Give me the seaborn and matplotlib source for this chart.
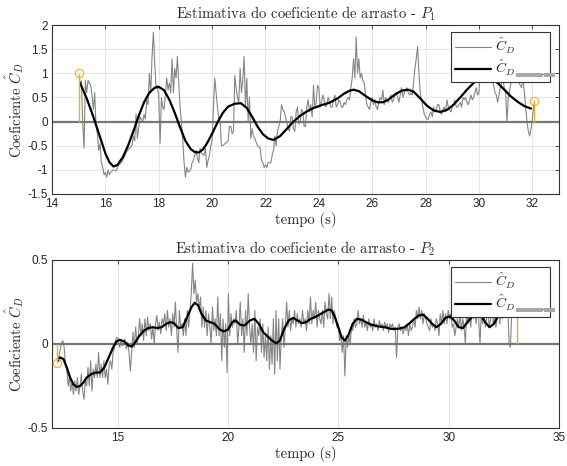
import numpy as np
import pandas as pd
import seaborn as sns
import matplotlib
matplotlib.use("Agg")
import matplotlib.pyplot as plt
from matplotlib.patches import Rectangle

# ---------------- data: P1 ----------------
t1_raw = [15.05, 15.1, 15.15, 15.2, 15.25, 15.3, 15.35, 15.4, 15.45, 15.5,
          15.55, 15.6, 15.65, 15.7, 15.75, 15.8, 15.85, 15.9, 15.95, 16.0,
          16.05, 16.1, 16.15, 16.2, 16.3, 16.4, 16.5, 16.6, 16.7, 16.8,
          16.9, 17.0, 17.05, 17.1, 17.15, 17.2, 17.3, 17.4, 17.45, 17.5,
          17.55, 17.6, 17.65, 17.7, 17.75, 17.8, 17.85, 17.9, 17.95, 18.0,
          18.05, 18.1, 18.15, 18.2, 18.3, 18.35, 18.4, 18.45, 18.5, 18.55,
          18.6, 18.65, 18.7, 18.75, 18.8, 18.85, 18.9, 18.95, 19.0, 19.05,
          19.1, 19.2, 19.25, 19.3, 19.4, 19.45, 19.5, 19.55, 19.6, 19.7,
          19.75, 19.8, 19.85, 19.9, 19.95, 20.0, 20.05, 20.1, 20.15, 20.2,
          20.25, 20.3, 20.35, 20.4, 20.5, 20.6, 20.65, 20.7, 20.75, 20.8,
          20.85, 20.9, 20.95, 21.0, 21.05, 21.1, 21.15, 21.2, 21.25, 21.3,
          21.35, 21.4, 21.45, 21.5, 21.55, 21.6, 21.7, 21.8, 21.85, 21.9,
          21.95, 22.0, 22.05, 22.1, 22.2, 22.25, 22.3, 22.35, 22.4, 22.45,
          22.5, 22.55, 22.6, 22.65, 22.7, 22.75, 22.8, 22.85, 22.9, 22.95,
          23.0, 23.05, 23.1, 23.15, 23.2, 23.25, 23.3, 23.35, 23.4, 23.45,
          23.5, 23.55, 23.6, 23.65, 23.7, 23.75, 23.8, 23.85, 23.9, 23.95,
          24.0, 24.05, 24.1, 24.15, 24.2, 24.25, 24.3, 24.35, 24.4, 24.45,
          24.5, 24.55, 24.6, 24.65, 24.7, 24.75, 24.8, 24.85, 24.9, 24.95,
          25.0, 25.05, 25.1, 25.15, 25.2, 25.25, 25.3, 25.35, 25.4, 25.45,
          25.5, 25.55, 25.6, 25.65, 25.7, 25.75, 25.8, 25.85, 25.9, 25.95,
          26.0, 26.05, 26.1, 26.15, 26.2, 26.25, 26.3, 26.35, 26.4, 26.45,
          26.5, 26.55, 26.6, 26.65, 26.7, 26.75, 26.8, 26.85, 26.9, 26.95,
          27.0, 27.05, 27.1, 27.15, 27.2, 27.25, 27.3, 27.35, 27.4, 27.45,
          27.5, 27.55, 27.6, 27.65, 27.7, 27.75, 27.8, 27.85, 27.9, 27.95,
          28.0, 28.05, 28.1, 28.15, 28.2, 28.25, 28.3, 28.35, 28.4, 28.45,
          28.5, 28.55, 28.6, 28.65, 28.7, 28.75, 28.8, 28.85, 28.9, 28.95,
          29.0, 29.05, 29.1, 29.15, 29.2, 29.25, 29.3, 29.35, 29.4, 29.45,
          29.5, 29.55, 29.6, 29.65, 29.7, 29.75, 29.8, 29.85, 29.9, 29.95,
          30.0, 30.05, 30.1, 30.15, 30.2, 30.25, 30.3, 30.35, 30.4, 30.45,
          30.5, 30.55, 30.6, 30.65, 30.7, 30.75, 30.8, 30.85, 30.9, 30.95,
          31.0, 31.05, 31.1, 31.15, 31.2, 31.25, 31.3, 31.35, 31.4, 31.45,
          31.5, 31.55, 31.6, 31.65, 31.7, 31.75, 31.8, 31.85, 31.9, 31.95,
          32.0, 32.05, 32.08]
cd1_raw = [0.8, 0.85, 0.0, -0.55, 0.85, 0.6, 0.85, 0.8, 0.75, 0.55,
           0.25, 0.6, -0.1, -0.25, -0.6, -0.45, -0.85, -0.95, -1.1, -1.05,
           -1.15, -1.0, -1.1, -1.05, -1.0, -1.02, -0.9, -0.85, -0.75, -0.62,
           -0.55, -0.5, -0.3, -0.4, 0.15, -0.35, 0.1, 0.0, 0.15, 0.05,
           0.45, 0.35, 1.0, 0.6, 1.35, 1.85, 1.2, 0.7, 0.75, 0.5,
           -0.45, 0.5, 0.3, 0.25, 0.9, 0.65, 0.8, 0.6, 1.3, 0.6,
           1.1, 0.9, 1.35, 0.8, 0.3, 0.0, -0.4, -0.85, -1.15, -0.95,
           -1.05, -1.0, -0.85, -0.8, -0.6, -0.75, -0.85, -0.55, -0.65, -0.7,
           -0.55, -0.95, -0.8, -0.7, -0.5, -0.4, 0.3, 0.9, 0.6, 0.3,
           0.05, 0.0, -0.5, -0.5, -0.45, -0.4, -0.1, -0.1, -0.25, -0.2,
           0.95, 0.7, 0.5, 0.4, 1.1, 0.6, 0.85, 1.35, 0.3, 0.9,
           0.0, 0.5, -0.35, -0.15, -0.3, -0.35, -0.5, -0.55, -0.8, -0.85,
           -0.95, -0.9, -0.95, -0.85, -0.85, -0.7, -0.6, -0.3, -0.5, -0.2,
           -0.1, 0.0, 0.35, 0.25, 0.2, 0.1, 0.0, -0.15, -0.2, 0.1,
           0.1, -0.15, -0.2, 0.2, 0.3, -0.05, 0.0, 0.25, 0.2, -0.1,
           -0.1, 0.3, 0.45, 0.2, 0.35, 0.1, 0.75, 0.3, 0.4, 0.75,
           0.7, 0.3, 0.4, 0.55, 0.45, 0.3, 0.35, 0.5, 0.4, 0.3,
           0.3, 0.45, 0.55, 0.3, 0.35, 0.45, 0.4, 0.3, 0.3, 0.4,
           0.35, 0.45, 0.5, 0.45, 0.7, 0.9, 1.3, 0.9, 1.75, 1.0,
           1.3, 0.9, 1.0, 0.85, 0.8, 0.55, 0.35, 0.3, 0.25, 0.4,
           0.5, 0.35, 0.45, 0.3, 0.25, 0.4, 0.5, 0.45, 0.65, 0.35,
           0.5, 0.45, 0.4, 0.5, 0.55, 0.4, 0.45, 0.55, 0.6, 0.5,
           0.4, 0.55, 0.7, 0.5, 0.6, 0.65, 0.7, 0.6, 0.55, 0.6,
           0.55, 0.8, 1.1, 1.3, 1.55, 1.0, 0.6, 0.45, 0.3, 0.15,
           0.1, 0.05, 0.05, 0.15, 0.2, 0.1, 0.3, 0.2, 0.25, 0.35,
           0.35, 0.2, 0.15, 0.25, 0.3, 0.2, 0.45, 0.3, 0.25, 0.2,
           0.3, 0.35, 0.45, 0.3, 0.3, 0.35, 0.4, 0.3, 0.5, 0.45,
           0.5, 0.4, 0.35, 0.45, 0.55, 0.45, 0.5, 0.6, 0.7, 0.55,
           0.6, 1.05, 0.9, 1.0, 1.05, 0.95, 0.9, 1.05, 1.0, 0.9,
           0.85, 0.75, 0.6, 0.55, 0.4, 0.55, 0.7, 0.8, 0.85, 0.7,
           0.6, 0.0, 0.5, 0.65, 0.8, 0.9, 1.0, 0.8, 1.05, 0.95,
           0.8, 0.75, 0.7, 0.95, 0.6, 0.3, 0.0, -0.2, -0.3, -0.15,
           0.05, 0.3, 0.42]

t1_filt = [15.05, 15.3, 15.55, 15.8, 16.0, 16.15, 16.3, 16.45, 16.65, 16.85,
           17.05, 17.25, 17.45, 17.65, 17.85, 18.0, 18.2, 18.4, 18.6, 18.8,
           19.0, 19.2, 19.35, 19.5, 19.65, 19.8, 20.0, 20.2, 20.4, 20.6,
           20.85, 21.08, 21.3, 21.5, 21.7, 21.9, 22.1, 22.3, 22.55, 22.8,
           23.05, 23.3, 23.55, 23.8, 24.1, 24.4, 24.7, 24.95, 25.15, 25.3,
           25.5, 25.75, 26.0, 26.2, 26.4, 26.6, 26.85, 27.1, 27.35, 27.55,
           27.8, 28.05, 28.3, 28.55, 28.8, 29.05, 29.3, 29.55, 29.8, 30.0,
           30.23, 30.45, 30.7, 30.95, 31.2, 31.45, 31.7, 31.95]
cd1_filt = [0.8, 0.48, 0.1, -0.32, -0.66, -0.84, -0.93, -0.9, -0.74, -0.5,
            -0.2, 0.12, 0.4, 0.6, 0.7, 0.72, 0.65, 0.45, 0.18, -0.12,
            -0.4, -0.57, -0.63, -0.64, -0.58, -0.46, -0.25, -0.02, 0.18, 0.31,
            0.37, 0.38, 0.28, 0.1, -0.1, -0.26, -0.35, -0.38, -0.3, -0.15,
            0.0, 0.12, 0.21, 0.28, 0.34, 0.39, 0.48, 0.58, 0.64, 0.66,
            0.63, 0.53, 0.44, 0.4, 0.4, 0.45, 0.56, 0.64, 0.66, 0.62,
            0.48, 0.33, 0.23, 0.2, 0.24, 0.35, 0.5, 0.66, 0.8, 0.88,
            0.92, 0.9, 0.8, 0.66, 0.52, 0.41, 0.32, 0.27]

t1_stem = [15.03, 32.08]
cd1_stem = [1.0, 0.42]

# ---------------- data: P2 ----------------
t2_raw = [12.3, 12.38, 12.45, 12.52, 12.58, 12.64, 12.7, 12.76, 12.82, 12.88,
          12.94, 13.0, 13.06, 13.12, 13.18, 13.24, 13.3, 13.36, 13.42, 13.48,
          13.54, 13.6, 13.66, 13.72, 13.78, 13.84, 13.9, 13.96, 14.02, 14.08,
          14.14, 14.2, 14.26, 14.32, 14.38, 14.44, 14.5, 14.56, 14.62, 14.68,
          14.74, 14.8, 14.86, 14.92, 14.98, 15.04, 15.1, 15.16, 15.22, 15.28,
          15.34, 15.4, 15.46, 15.52, 15.58, 15.64, 15.7, 15.76, 15.82, 15.88,
          15.94, 16.0, 16.06, 16.12, 16.18, 16.24, 16.3, 16.36, 16.42, 16.48,
          16.54, 16.6, 16.66, 16.72, 16.78, 16.84, 16.9, 16.96, 17.02, 17.08,
          17.14, 17.2, 17.26, 17.32, 17.38, 17.44, 17.5, 17.56, 17.62, 17.68,
          17.74, 17.8, 17.86, 17.92, 17.98, 18.04, 18.1, 18.16, 18.22, 18.28,
          18.34, 18.4, 18.46, 18.52, 18.58, 18.64, 18.7, 18.76, 18.82, 18.88,
          18.94, 19.0, 19.06, 19.12, 19.18, 19.24, 19.3, 19.36, 19.42, 19.48,
          19.54, 19.6, 19.66, 19.72, 19.78, 19.84, 19.9, 19.96, 20.02, 20.08,
          20.14, 20.2, 20.26, 20.32, 20.38, 20.44, 20.5, 20.56, 20.62, 20.68,
          20.74, 20.8, 20.86, 20.92, 20.98, 21.04, 21.1, 21.16, 21.22, 21.28,
          21.34, 21.4, 21.46, 21.52, 21.58, 21.64, 21.7, 21.76, 21.82, 21.88,
          21.94, 22.0, 22.06, 22.12, 22.18, 22.24, 22.3, 22.36, 22.42, 22.48,
          22.54, 22.6, 22.66, 22.72, 22.78, 22.84, 22.9, 22.96, 23.02, 23.08,
          23.14, 23.2, 23.26, 23.32, 23.38, 23.44, 23.5, 23.56, 23.62, 23.68,
          23.74, 23.8, 23.86, 23.92, 23.98, 24.04, 24.1, 24.16, 24.22, 24.28,
          24.34, 24.4, 24.46, 24.52, 24.58, 24.64, 24.7, 24.76, 24.82, 24.88,
          24.94, 25.0, 25.06, 25.12, 25.18, 25.24, 25.3, 25.36, 25.42, 25.48,
          25.54, 25.6, 25.66, 25.72, 25.78, 25.84, 25.9, 25.96, 26.02, 26.08,
          26.14, 26.2, 26.26, 26.32, 26.38, 26.44, 26.5, 26.56, 26.62, 26.68,
          26.74, 26.8, 26.86, 26.92, 26.98, 27.04, 27.1, 27.16, 27.22, 27.28,
          27.34, 27.4, 27.46, 27.52, 27.58, 27.64, 27.7, 27.76, 27.82, 27.88,
          27.94, 28.0, 28.06, 28.12, 28.18, 28.24, 28.3, 28.36, 28.42, 28.48,
          28.54, 28.6, 28.66, 28.72, 28.78, 28.84, 28.9, 28.96, 29.02, 29.08,
          29.14, 29.2, 29.26, 29.32, 29.38, 29.44, 29.5, 29.56, 29.62, 29.68,
          29.74, 29.8, 29.86, 29.92, 29.98, 30.04, 30.1, 30.16, 30.22, 30.28,
          30.34, 30.4, 30.46, 30.52, 30.58, 30.64, 30.7, 30.76, 30.82, 30.88,
          30.94, 31.0, 31.06, 31.12, 31.18, 31.24, 31.3, 31.36, 31.42, 31.48,
          31.54, 31.6, 31.66, 31.72, 31.78, 31.84, 31.9, 31.96, 32.02, 32.08,
          32.14, 32.2, 32.26, 32.32, 32.38, 32.44, 32.5, 32.56, 32.62, 32.68,
          32.74, 32.8, 32.86, 32.92, 32.98, 33.04]
cd2_raw = [-0.1, -0.05, 0.0, 0.02, -0.02, -0.12, -0.15, -0.25, -0.2, -0.28,
           -0.22, -0.3, -0.22, -0.28, -0.2, -0.3, -0.25, -0.18, -0.28, -0.33,
           -0.22, -0.25, -0.14, -0.25, -0.1, -0.28, -0.15, -0.2, -0.12, -0.2,
           -0.05, -0.2, -0.12, -0.2, -0.1, -0.2, -0.15, -0.24, -0.12, -0.1,
           -0.15, -0.05, -0.02, 0.03, 0.04, 0.02, -0.02, 0.02, -0.01, 0.0,
           0.03, -0.03, 0.01, -0.05, -0.16, -0.05, 0.07, -0.02, 0.1, 0.0,
           0.05, 0.15, 0.05, 0.12, 0.02, 0.15, 0.05, 0.16, 0.08, 0.12,
           0.03, 0.1, 0.0, 0.12, 0.17, 0.08, 0.13, 0.06, 0.15, 0.12,
           0.18, 0.08, 0.2, 0.1, 0.15, 0.05, 0.18, 0.1, 0.25, 0.08,
           -0.05, 0.2, 0.1, 0.12, 0.05, 0.15, 0.05, 0.2, 0.1, 0.2,
           0.3, 0.48, 0.3, 0.38, 0.25, 0.3, 0.2, 0.28, 0.1, 0.22,
           0.1, 0.2, 0.05, 0.18, 0.1, 0.0, 0.22, 0.08, 0.15, 0.05,
           0.28, 0.05, 0.18, -0.1, 0.15, -0.02, 0.12, -0.17, 0.3, 0.05,
           0.18, 0.1, 0.15, 0.12, 0.2, 0.0, 0.1, 0.25, 0.05, 0.15,
           -0.05, 0.2, 0.05, 0.3, 0.1, 0.0, 0.12, -0.05, 0.2, -0.1,
           0.1, 0.05, 0.15, -0.05, 0.12, -0.08, 0.05, -0.1, 0.1, -0.15,
           0.05, -0.12, 0.15, -0.18, 0.2, -0.1, 0.15, -0.15, 0.05, 0.15,
           -0.02, 0.1, 0.25, 0.1, 0.2, 0.08, 0.15, 0.12, 0.2, 0.1,
           0.18, 0.12, 0.15, 0.1, 0.2, 0.12, 0.15, 0.08, 0.2, 0.12,
           0.28, 0.12, 0.2, 0.15, 0.25, 0.1, 0.2, 0.15, 0.12, 0.2,
           0.1, 0.25, 0.18, 0.15, 0.3, 0.15, 0.28, 0.12, 0.2, 0.15,
           0.1, 0.12, 0.02, 0.05, -0.05, 0.05, -0.19, 0.05, -0.02, 0.05,
           0.0, 0.1, 0.08, 0.15, 0.1, 0.12, 0.2, 0.12, 0.15, 0.1,
           0.17, 0.1, 0.13, 0.08, 0.15, 0.1, 0.12, 0.08, 0.15, 0.1,
           0.12, 0.08, 0.14, 0.1, 0.12, 0.08, 0.13, 0.1, 0.12, 0.07,
           0.12, 0.1, 0.12, 0.08, 0.1, -0.08, 0.1, 0.12, 0.08, 0.1,
           0.06, 0.1, 0.08, 0.12, 0.05, 0.12, 0.08, 0.1, 0.15, 0.1,
           0.2, 0.15, 0.22, 0.15, 0.2, 0.12, 0.18, 0.15, 0.12, 0.1,
           0.08, 0.15, 0.1, 0.12, 0.08, 0.15, 0.12, 0.05, 0.18, 0.12,
           0.2, 0.12, 0.18, 0.12, 0.2, 0.15, 0.18, 0.1, 0.12, 0.05,
           0.1, 0.15, 0.1, 0.18, 0.08, 0.15, 0.1, 0.0, 0.2, 0.12,
           0.18, 0.1, 0.2, 0.15, 0.22, 0.12, 0.2, 0.15, 0.0, 0.18,
           0.12, 0.2, 0.1, 0.15, 0.2, 0.1, 0.15, 0.25, 0.12, 0.2,
           0.1, 0.15, 0.22, 0.12, 0.25, 0.15, 0.2, 0.25, 0.18, 0.22,
           0.0, -0.02, 0.2, 0.22, 0.2, 0.22]

t2_filt = [12.3, 12.4, 12.55, 12.7, 12.85, 13.0, 13.15, 13.3, 13.45, 13.6,
           13.8, 14.0, 14.2, 14.4, 14.6, 14.8, 14.95, 15.1, 15.3, 15.5,
           15.65, 15.8, 16.0, 16.2, 16.4, 16.6, 16.8, 17.0, 17.2, 17.4,
           17.55, 17.75, 17.95, 18.15, 18.35, 18.5, 18.65, 18.8, 19.0, 19.2,
           19.4, 19.6, 19.8, 20.0, 20.2, 20.35, 20.55, 20.75, 21.0, 21.2,
           21.4, 21.6, 21.8, 22.0, 22.2, 22.35, 22.55, 22.75, 22.95, 23.15,
           23.35, 23.55, 23.75, 23.95, 24.15, 24.35, 24.55, 24.7, 24.85, 25.0,
           25.15, 25.3, 25.45, 25.65, 25.85, 26.05, 26.25, 26.5, 26.8, 27.1,
           27.4, 27.7, 28.0, 28.2, 28.45, 28.65, 28.85, 29.05, 29.25, 29.45,
           29.65, 29.85, 30.05, 30.25, 30.45, 30.65, 30.85, 31.05, 31.25, 31.45,
           31.65, 31.85, 32.05, 32.25, 32.45, 32.65, 32.85]
cd2_filt = [-0.1, -0.08, -0.09, -0.14, -0.2, -0.24, -0.255, -0.25, -0.23, -0.2,
            -0.18, -0.17, -0.17, -0.14, -0.08, -0.02, 0.015, 0.025, 0.015, -0.01,
            -0.015, 0.01, 0.05, 0.08, 0.095, 0.1, 0.095, 0.1, 0.12, 0.13,
            0.125, 0.095, 0.1, 0.16, 0.22, 0.245, 0.23, 0.18, 0.14, 0.13,
            0.12, 0.09, 0.075, 0.085, 0.13, 0.14, 0.115, 0.11, 0.14, 0.15,
            0.12, 0.07, 0.045, 0.02, 0.005, 0.02, 0.09, 0.14, 0.155, 0.14,
            0.125, 0.13, 0.15, 0.16, 0.175, 0.19, 0.205, 0.2, 0.16, 0.1,
            0.04, 0.02, 0.05, 0.12, 0.15, 0.145, 0.13, 0.115, 0.105, 0.1,
            0.09, 0.09, 0.1, 0.12, 0.15, 0.17, 0.175, 0.15, 0.12, 0.1,
            0.12, 0.155, 0.165, 0.14, 0.1, 0.095, 0.13, 0.16, 0.185, 0.175,
            0.13, 0.1, 0.12, 0.17, 0.2, 0.215, 0.22]

t2_stem = [12.27, 33.08]
cd2_stem = [-0.115, 0.22]

titles = ["Estimativa do coeficiente de arrasto - $P_1$",
          "Estimativa do coeficiente de arrasto - $P_2$"]
xlabel = "tempo (s)"
ylabel = r"Coeficiente $\hat{C}_D$"
legend_labels = [r"$\hat{C}_D$", r"$\hat{C}_{D\quad\quad\quad\;.}$"]

x1_ticks = [14, 16, 18, 20, 22, 24, 26, 28, 30, 32]
y1_ticks = [-1.5, -1, -0.5, 0, 0.5, 1, 1.5, 2]
y1_ticklabels = ["-1.5", "-1", "-0.5", "0", "0.5", "1", "1.5", "2"]
x2_ticks = [15, 20, 25, 30, 35]
y2_ticks = [-0.5, 0, 0.5]
y2_ticklabels = ["-0.5", "0", "0.5"]

# ---------------- style ----------------
sns.set_style("white")
plt.rcParams["font.family"] = ["Liberation Sans", "DejaVu Sans"]
plt.rcParams["mathtext.fontset"] = "cm"
plt.rcParams["axes.unicode_minus"] = False

GRAY = "#858585"
ORANGE = "#EDB120"
SPINE = "#333333"

W, H = 567, 466
AX_L, AX_R = 52, 559
fig = plt.figure(figsize=(W / 100, H / 100), dpi=100)
ax1 = fig.add_axes([AX_L / W, 1 - 194 / H, (AX_R - AX_L) / W, 169 / H])
ax2 = fig.add_axes([AX_L / W, 1 - 428 / H, (AX_R - AX_L) / W, 168 / H])

panels = [
    (ax1, t1_raw, cd1_raw, t1_filt, cd1_filt, t1_stem, cd1_stem,
     (14, 33), (-1.5, 2), x1_ticks, y1_ticks, y1_ticklabels, titles[0], 169),
    (ax2, t2_raw, cd2_raw, t2_filt, cd2_filt, t2_stem, cd2_stem,
     (12.03, 35), (-0.5, 0.5), x2_ticks, y2_ticks, y2_ticklabels, titles[1], 168),
]

legends = []
for (ax, tr, vr, tf, vf, ts, vs, xl, yl, xt, yt, ytl, title, hpx) in panels:
    df_raw = pd.DataFrame({"t": tr, "cd": vr})
    df_f = pd.DataFrame({"t": tf, "cd": vf})
    ax.grid(True, color="#e3e3e3", linewidth=0.6, zorder=0)
    ax.set_axisbelow(True)
    sns.lineplot(data=df_raw, x="t", y="cd", ax=ax, color=GRAY, linewidth=0.8,
                 label=legend_labels[0], estimator=None, sort=False, zorder=2)
    sns.lineplot(data=df_f, x="t", y="cd", ax=ax, color="black", linewidth=1.6,
                 label=legend_labels[1], estimator=None, sort=False, zorder=3)
    ax.axhline(0, color="#767676", linewidth=1.6, zorder=2.5)
    ax.vlines(ts, 0, vs, color=ORANGE, linewidth=1.0, zorder=4)
    ax.plot(ts, vs, linestyle="none", marker="o", markersize=6,
            markerfacecolor="none", markeredgecolor=ORANGE,
            markeredgewidth=0.8, zorder=4)
    ax.set_xlim(*xl)
    ax.set_ylim(*yl)
    ax.set_xticks(xt)
    ax.set_xticklabels([str(v) for v in xt])
    ax.set_yticks(yt)
    ax.set_yticklabels(ytl)
    ax.tick_params(axis="both", which="both", direction="in", length=3,
                   width=0.6, color=SPINE, labelsize=8.5, labelcolor="#262626",
                   top=True, right=True, pad=3)
    for sp in ax.spines.values():
        sp.set_visible(True)
        sp.set_color(SPINE)
        sp.set_linewidth(0.8)
    ax.set_title(title, fontsize=10.5, family="cmr10", color="#262626", pad=5)
    ax.set_xlabel(xlabel, fontsize=10.5, family="cmr10", color="#262626", labelpad=1)
    ax.set_ylabel(ylabel, fontsize=10.5, family="cmr10", color="#262626", labelpad=1)
    wpx = AX_R - AX_L
    leg = ax.legend(loc="upper right",
                    bbox_to_anchor=(1 - 9 / wpx, 1 - 7 / hpx),
                    borderaxespad=0, fancybox=False, framealpha=1,
                    edgecolor=SPINE, fontsize=10, handlelength=2.6,
                    handletextpad=0.3, borderpad=0.3, labelspacing=0.1)
    leg.get_frame().set_linewidth(0.8)
    legends.append(leg)

fig.canvas.draw()
renderer = fig.canvas.get_renderer()
for leg in legends:
    t_a, t_b = leg.get_texts()
    bb_a = t_a.get_window_extent(renderer)
    bb_b = t_b.get_window_extent(renderer)
    x0 = bb_b.x0 + bb_a.width + 0.5
    y0 = bb_b.y0 + 0.5
    fig.add_artist(Rectangle((x0 / W, y0 / H), 27 / W, 4.5 / H,
                             transform=fig.transFigure, facecolor="#a8a8a8",
                             edgecolor="none", zorder=10))
    fig.add_artist(Rectangle(((x0 + 28) / W, y0 / H), 11 / W, 4.5 / H,
                             transform=fig.transFigure, facecolor="#a8a8a8",
                             edgecolor="none", zorder=10))

fig.savefig("out.png", dpi=100)
